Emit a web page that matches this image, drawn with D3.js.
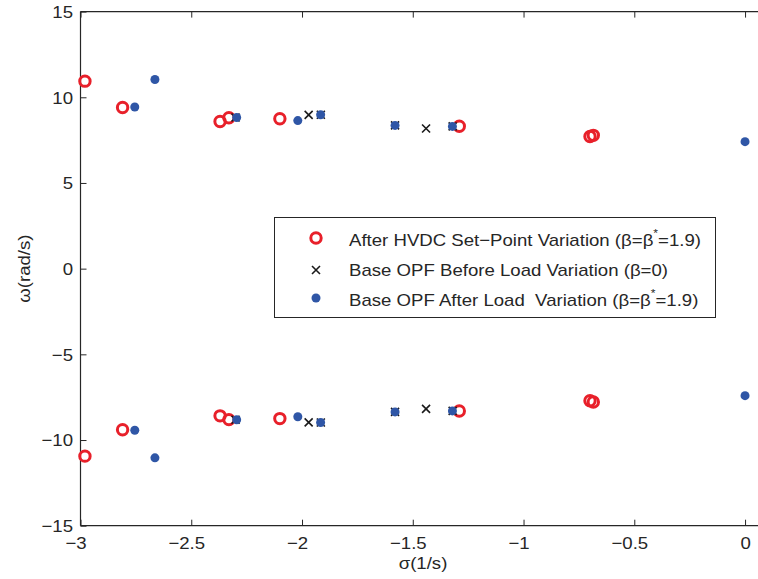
<!DOCTYPE html>
<html>
<head>
<meta charset="utf-8">
<script src="https://cdn.jsdelivr.net/npm/d3@7"></script>
<style>
  html, body { margin: 0; padding: 0; background: #fff; }
  svg text { font-family: "Liberation Sans", Arial, Helvetica, sans-serif; fill: #262626; }
</style>
</head>
<body>
<svg id="chart" width="758" height="579"></svg>
<script>
// Eigenvalues (sigma, omega) – each appears as a conjugate pair ±omega
const hvdcSigma = [-2.98, -2.81, -2.37, -2.33, -2.10, -1.29, -0.70, -0.685];
const hvdcOmega = [10.94, 9.40, 8.59, 8.81, 8.75, 8.31, 7.71, 7.78];

const beforeSigma = [-2.30, -1.97, -1.915, -1.58, -1.44, -1.32];
const beforeOmega = [8.82, 8.97, 8.98, 8.36, 8.18, 8.30];

const afterSigma = [-2.755, -2.664, -2.295, -2.019, -1.916, -1.580, -1.321, 0.0];
const afterOmega = [9.43, 11.04, 8.82, 8.64, 8.98, 8.36, 8.30, 7.41];

const xTicks = [-3, -2.5, -2, -1.5, -1, -0.5, 0];
const yTicks = [-15, -10, -5, 0, 5, 10, 15];

const legendLabels = [
  ["After HVDC Set\u2212Point Variation (\u03B2=\u03B2", "*", "=1.9)"],
  ["Base OPF Before Load Variation (\u03B2=0)"],
  ["Base OPF After Load  Variation (\u03B2=\u03B2", "*", "=1.9)"]
];

const RED = "#e8202a", BLUE = "#2f56a6", BLACK = "#1a1a1a", AXIS = "#262626";
const FS = 17, SX = 1.095; // text size and horizontal stretch of the lettering

const svg = d3.select("#chart");
const x = d3.scaleLinear().domain([-3, 0.1]).range([80.5, 767.2]);
const y = d3.scaleLinear().domain([-15, 15]).range([525.7, 11.6]);

const fmt = v => (v < 0 ? "\u2212" : "") + Math.abs(v);

// conjugate pairs
const pairs = (s, w) => s.flatMap((v, i) => [[v, w[i]], [v, -w[i]]]);

// axes frame (left, top, bottom) with inward ticks
const g = svg.append("g");
[[x(-3), 760, y(15), y(15)], [x(-3), 760, y(-15), y(-15)], [x(-3), x(-3), y(15), y(-15)]]
  .forEach(([x1, x2, y1, y2]) => g.append("line")
    .attr("x1", x1).attr("x2", x2).attr("y1", y1).attr("y2", y2)
    .attr("stroke", AXIS).attr("stroke-width", 1.2));

const bottomAxis = d3.axisBottom(x).tickValues(xTicks).tickSize(-6).tickPadding(0).tickFormat(fmt);
const topAxis = d3.axisTop(x).tickValues(xTicks).tickSize(-6).tickFormat("");
const leftAxis = d3.axisLeft(y).tickValues(yTicks).tickSize(-6).tickPadding(0).tickFormat(fmt);

function styleAxis(sel) {
  sel.select(".domain").remove();
  sel.selectAll(".tick line").attr("stroke", AXIS).attr("stroke-width", 1);
  sel.selectAll(".tick text").attr("font-size", FS).attr("fill", AXIS);
}
const gb = svg.append("g").attr("transform", `translate(0,${y(-15)})`).call(bottomAxis).call(styleAxis);
gb.selectAll(".tick text").attr("y", 0).attr("dy", null)
  .attr("transform", d => `translate(${d < 0 ? -5 : 0},23) scale(${SX},1)`);
svg.append("g").attr("transform", `translate(0,${y(15)})`).call(topAxis).call(styleAxis);
const gl = svg.append("g").attr("transform", `translate(${x(-3)},0)`).call(leftAxis).call(styleAxis);
gl.selectAll(".tick text").attr("x", 0).attr("dy", "0.35em")
  .attr("transform", `translate(-7.5,0) scale(${SX},1)`);

// axis titles
svg.append("text").attr("transform", `translate(423,569) scale(${SX},1)`).attr("text-anchor", "middle")
  .attr("font-size", FS).text("\u03C3(1/s)");
svg.append("text").attr("transform", `translate(30,${y(0)}) rotate(-90) scale(${SX},1)`).attr("text-anchor", "middle")
  .attr("font-size", FS).text("\u03C9(rad/s)");

// markers
function ring(sel) { return sel.attr("r", 5.2).attr("fill", "none").attr("stroke", RED).attr("stroke-width", 3); }
function cross(sel, s) {
  return sel.attr("d", `M${-s},${-s}L${s},${s}M${-s},${s}L${s},${-s}`)
    .attr("stroke", BLACK).attr("stroke-width", 1.6).attr("fill", "none");
}
function dot(sel) { return sel.attr("r", 4.5).attr("fill", BLUE); }

svg.append("g").selectAll("circle").data(pairs(hvdcSigma, hvdcOmega)).join("circle")
  .attr("cx", d => x(d[0])).attr("cy", d => y(d[1])).call(ring);
svg.append("g").selectAll("path").data(pairs(beforeSigma, beforeOmega)).join("path")
  .attr("transform", d => `translate(${x(d[0])},${y(d[1])})`).call(cross, 4);
svg.append("g").selectAll("circle").data(pairs(afterSigma, afterOmega)).join("circle")
  .attr("cx", d => x(d[0])).attr("cy", d => y(d[1])).call(dot);

// legend
const lg = svg.append("g");
lg.append("rect").attr("x", 274.5).attr("y", 217.5).attr("width", 441).attr("height", 100)
  .attr("fill", "#fff").attr("stroke", AXIS).attr("stroke-width", 1);
const rowY = [240, 270, 300];
lg.append("circle").attr("cx", 316).attr("cy", rowY[0] - 2).call(ring);
lg.append("path").attr("transform", `translate(316,${rowY[1]})`).call(cross, 4);
lg.append("circle").attr("cx", 316).attr("cy", rowY[2] - 2).call(dot);
legendLabels.forEach((parts, i) => {
  const t = lg.append("text").attr("transform", `translate(349,${rowY[i] + 6}) scale(${SX},1)`)
    .attr("font-size", FS).attr("xml:space", "preserve").style("white-space", "pre");
  parts.forEach((p, j) => {
    const ts = t.append("tspan").text(p);
    if (p === "*") ts.attr("font-size", 11).attr("dy", -9);
    else if (j > 0) ts.attr("dy", 9);
  });
});
</script>
</body>
</html>
